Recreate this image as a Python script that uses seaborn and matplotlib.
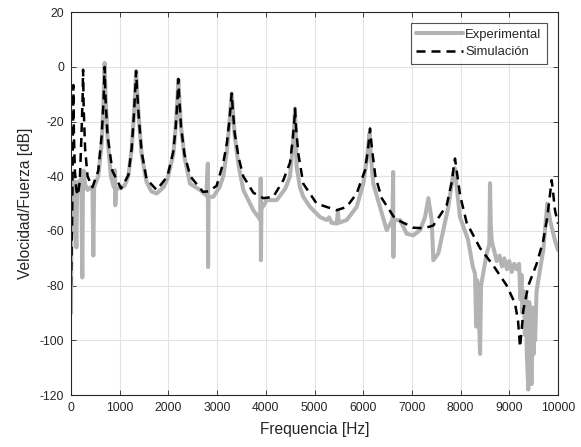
import matplotlib
matplotlib.use("Agg")
import matplotlib.pyplot as plt
import seaborn as sns
import pandas as pd

# ---------------- data ----------------
exp_freq = [0, 8, 15, 22, 30, 40, 50, 65, 80, 95, 110, 125, 150, 175, 200, 215, 232, 245, 260,
            290, 340, 400, 440, 458, 475, 560, 630, 665, 690, 712, 750, 820, 880, 903, 910, 925,
            1000, 1100, 1177, 1246, 1290, 1320, 1337, 1355, 1390, 1450, 1550, 1650, 1760, 1900,
            1980, 2100, 2150, 2185, 2204, 2225, 2260, 2330, 2444, 2649, 2780, 2810, 2815, 2825,
            2922, 3050, 3127, 3200, 3250, 3285, 3300, 3320, 3360, 3440, 3538, 3744, 3846, 3890,
            3895, 3900, 3910, 4018, 4224, 4400, 4497, 4550, 4585, 4600, 4634, 4700, 4770, 4908,
            5113, 5250, 5300, 5350, 5455, 5480, 5500, 5660, 5866, 6002, 6080, 6130, 6160, 6207,
            6345, 6482, 6600, 6615, 6620, 6630, 6756, 6893, 7030, 7166, 7269, 7338, 7406, 7440,
            7542, 7645, 7748, 7850, 7880, 7919, 7988, 8090, 8150, 8200, 8250, 8296, 8320, 8340,
            8370, 8400, 8420, 8460, 8536, 8590, 8604, 8620, 8638, 8700, 8741, 8800, 8850, 8900,
            8950, 9000, 9050, 9100, 9151, 9200, 9230, 9250, 9270, 9300, 9320, 9345, 9360, 9390,
            9410, 9425, 9440, 9460, 9480, 9500, 9515, 9530, 9560, 9596, 9698, 9780, 9836, 9938,
            10000]
exp_db = [-90, -62, -45, -58, -42, -50, -45, -60, -42, -55, -66, -44, -42, -45, -41, -48, -77, -44, -38,
          -43, -45, -44, -44, -69, -44, -40, -28, -14, 1.5, -12, -26, -40, -44, -37.8, -50.6, -45,
          -44, -43.5, -40, -30, -18, -8, -1.5, -8, -18, -32, -42, -45.5, -46.3, -44,
          -41, -32, -22, -12, -4.6, -12, -22, -33, -42.7, -45, -47, -35.3, -73.2, -47.5,
          -47.5, -44, -40, -31, -21, -13, -9.7, -15, -25, -36, -45, -52.4, -54.9, -56,
          -40.8, -70.7, -52, -48.7, -48.7, -44.5, -40, -30, -21, -15.2, -36.6, -44, -47.5, -51.2,
          -54.9, -56, -55, -57, -57.3, -53, -57, -56, -51.2, -42.7, -33, -24.3, -33, -42.7,
          -51.2, -59.7, -56, -38.4, -69.5, -56, -56, -61, -61.6, -59.7, -55, -48, -56, -70.7,
          -68.2, -59.7, -51.2, -39, -37, -43.9, -55, -60, -63, -68, -73, -75.6, -95, -78,
          -88, -105, -80, -76, -68.2, -65, -42.5, -58, -63.5, -68, -71, -69, -73, -70,
          -74, -71, -75, -72, -74, -72, -85, -76, -90, -82, -98, -84, -105, -118,
          -86, -100, -112, -116, -88, -105, -92, -100, -82, -78, -67, -50, -56, -63.5,
          -67]

sim_freq = [0, 20, 35, 45, 48, 60, 80, 110, 140, 180, 215, 240, 248, 260, 290, 340, 440, 560,
            630, 670, 690, 710, 750, 850, 1030, 1177, 1246, 1290, 1320, 1337, 1355, 1390, 1450,
            1550, 1760, 1980, 2100, 2150, 2185, 2204, 2225, 2260, 2330, 2450, 2710, 2820, 2990,
            3127, 3200, 3250, 3285, 3300, 3320, 3360, 3440, 3538, 3744, 3949, 4155, 4360, 4497,
            4550, 4585, 4600, 4620, 4670, 4770, 5045, 5455, 5660, 5866, 6037, 6100, 6140, 6180,
            6250, 6380, 6653, 7030, 7250, 7440, 7714, 7820, 7870, 7885, 7920, 7990, 8125, 8400,
            8670, 8945, 9117, 9180, 9220, 9260, 9288, 9390, 9562, 9698, 9780, 9840, 9870, 9900,
            9938, 10000]
sim_db = [-80, -60, -35, -15, -6.6, -25, -38, -45, -47, -42, -25, -10, -1, -15, -30, -40, -44, -38,
          -25, -12, 0, -12, -25, -38, -44.5, -39.6, -29.8, -18, -8, -1.5, -8, -18, -31,
          -41, -45, -40, -31, -22, -12, -4.4, -12, -22, -32, -40, -45.7, -45.5, -43.5,
          -35, -28, -20, -13, -9.7, -15, -24, -33, -40, -46, -48, -47.5, -41.4, -35,
          -27, -20, -15.2, -22, -32, -42.7, -50, -52.4, -51.2, -46.3, -37.8, -30, -22.5, -30,
          -40, -48, -55.5, -58.8, -59, -58, -50.6, -42, -35, -33.5, -38, -47, -57, -66.3,
          -72.6, -79.9, -86.5, -93, -102.5, -95, -89, -80, -72, -63.5, -54.9, -46, -41.4, -46,
          -52.4, -57.3]

x_ticks = [0, 1000, 2000, 3000, 4000, 5000, 6000, 7000, 8000, 9000, 10000]
y_ticks = [-120, -100, -80, -60, -40, -20, 0, 20]
series_labels = ["Experimental", "Simulación"]

# ---------------- style ----------------
sns.set_style("ticks")
plt.rcParams["font.family"] = ["Liberation Sans", "DejaVu Sans"]
plt.rcParams["axes.unicode_minus"] = False

fig = plt.figure(figsize=(5.81, 4.47), dpi=100)
ax = fig.add_axes([71 / 581, 1 - 395 / 447, (558 - 71) / 581, (395 - 12.3) / 447])

df_exp = pd.DataFrame({"f": exp_freq, "db": exp_db})
df_sim = pd.DataFrame({"f": sim_freq, "db": sim_db})

sns.lineplot(data=df_exp, x="f", y="db", ax=ax, color="#b3b3b3", linewidth=2.9,
             estimator=None, sort=False, label=series_labels[0])
sns.lineplot(data=df_sim, x="f", y="db", ax=ax, color="black", linewidth=1.8,
             linestyle=(0, (3.6, 2.4)), estimator=None, sort=False, label=series_labels[1])

ax.set_xlim(0, 10000)
ax.set_ylim(-120, 20)
ax.set_xticks(x_ticks)
ax.set_yticks(y_ticks)
ax.set_xticklabels([str(t) for t in x_ticks])
ax.set_yticklabels([str(t) for t in y_ticks])

ax.grid(True, color="#e3e3e3", linewidth=0.8)
ax.set_axisbelow(True)
for s in ax.spines.values():
    s.set_color("#262626")
    s.set_linewidth(0.8)
    s.set_visible(True)
ax.tick_params(direction="in", length=3.5, width=0.6, colors="#262626",
               labelsize=8.8, top=True, right=True)
ax.tick_params(axis="x", pad=5)
ax.tick_params(axis="y", pad=5)

ax.set_xlabel("Frequencia [Hz]", fontsize=11.2, color="#262626", labelpad=6)
ax.set_ylabel("Velocidad/Fuerza [dB]", fontsize=11.2, color="#262626", labelpad=5)

leg = ax.legend(loc="upper right", fontsize=9.4, frameon=True, fancybox=False,
                handlelength=3.6, handletextpad=0.15, borderpad=0.42, labelspacing=0.4,
                borderaxespad=0.85)
leg.get_frame().set_edgecolor("#262626")
leg.get_frame().set_linewidth(0.8)

fig.savefig("out.png", dpi=100)
